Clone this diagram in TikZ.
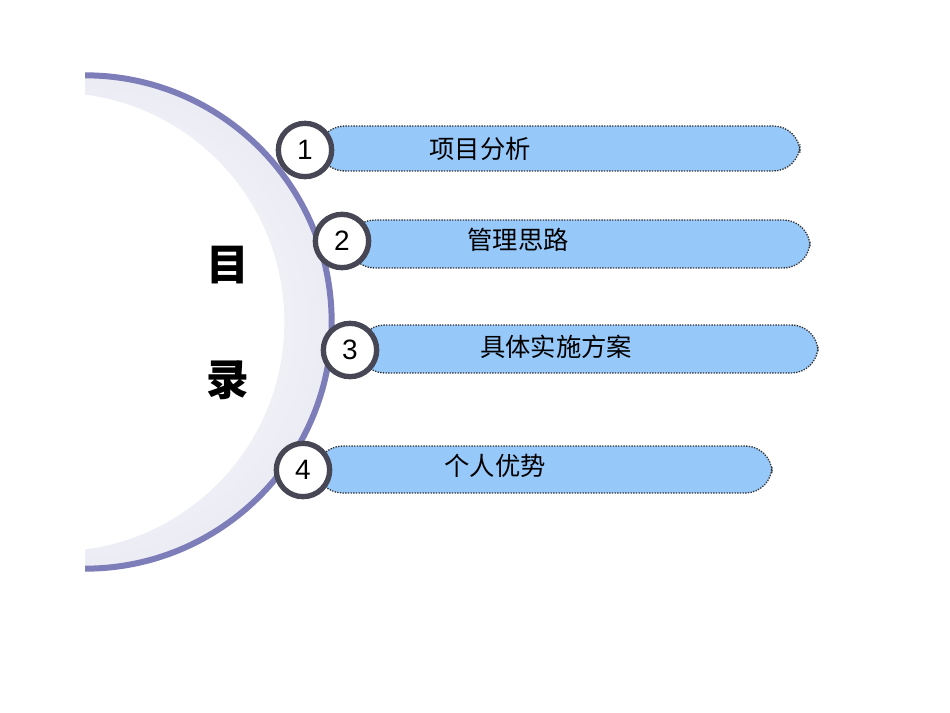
\documentclass[tikz,border=0pt]{standalone}
\usepackage{fontspec}
\setmainfont{Liberation Sans}
\newfontfamily\cjk{Noto Sans CJK SC}
\definecolor{arcc}{RGB}{125,125,185}
\definecolor{barc}{RGB}{150,200,250}
\definecolor{ringc}{RGB}{70,70,85}
\tikzset{
 bar/.style={fill=barc,draw=black!80,densely dotted,line width=1pt,rounded corners=20pt},
 num/.style={circle,draw=ringc,line width=4pt,fill=white,minimum size=40pt,inner sep=0pt,font=\fontsize{21}{21}\selectfont},
 lbl/.style={font=\cjk\fontsize{19}{19}\selectfont},
 big/.style={font=\cjk\bfseries\fontsize{32}{32}\selectfont}
}
\begin{document}
\begin{tikzpicture}[x=0.75pt,y=-0.75pt]
\useasboundingbox (0,0) rectangle (950,713);
\fill[white] (0,0) rectangle (950,713);
\coordinate (c) at (85,322);
\begin{scope}
\clip (85,0) rectangle (950,713);
\shade[inner color=white,outer color=arcc!15] (c) circle[radius=185pt];
\fill[white] (55,322) circle[radius=172pt];
\draw[arcc,line width=4.5pt] (c) circle[radius=185pt];
\end{scope}
\draw[bar] (318,126) rectangle (800,171);
\draw[bar] (348,220) rectangle (810,268);
\draw[bar] (358,325) rectangle (818,373);
\draw[bar] (316,446) rectangle (772,493);
\node[num] (n1) at (305,150) {1};
\node[num] (n2) at (342,241) {2};
\node[num] (n3) at (350,350) {3};
\node[num] (n4) at (303,470) {4};
\node[lbl] (t1) at (480,149) {项目分析};
\node[lbl] (t2) at (518,240) {管理思路};
\node[lbl] (t3) at (556,347) {具体实施方案};
\node[lbl] (t4) at (495,466) {个人优势};
\node[big] (m1) at (228,265) {目};
\node[big] (m2) at (228,380) {录};
\end{tikzpicture}
\end{document}
